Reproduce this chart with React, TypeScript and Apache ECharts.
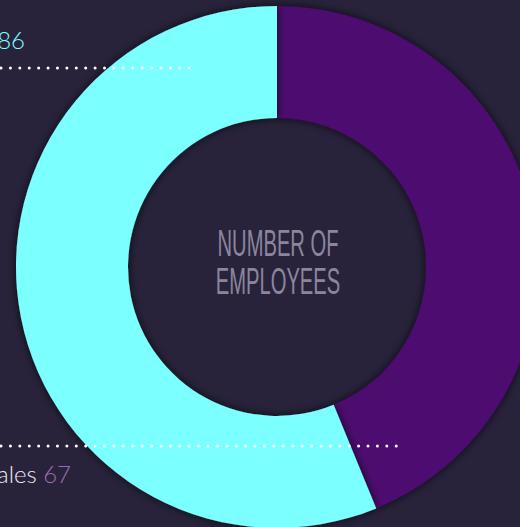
import React, { useEffect, useRef } from "react";
import * as echarts from "echarts";

const categories = ["Females", "Males"];
const values = [67, 86];
const colors = ["#4e0870", "#7cffff"];
const centerLines = ["NUMBER OF", "EMPLOYEES"];

export default function App() {
  const ref = useRef<HTMLDivElement>(null);
  useEffect(() => {
    const chart = echarts.init(ref.current!, null, { renderer: "svg" });
    const bg = "#28233b";
    chart.setOption({
      animation: false,
      backgroundColor: bg,
      series: [
        {
          type: "pie",
          center: [277, 267],
          radius: [149, 261],
          startAngle: 90,
          clockwise: true,
          silent: true,
          label: { show: false },
          labelLine: { show: false },
          itemStyle: {
            shadowBlur: 10,
            shadowColor: "rgba(0,0,0,0.75)",
          },
          data: categories.map((c, i) => ({
            name: c,
            value: values[i],
            itemStyle: { color: colors[i] },
          })),
        },
      ],
      graphic: [
        {
          type: "line",
          shape: { x1: 1, y1: 68, x2: 191, y2: 68 },
          style: { stroke: "#ffffff", lineWidth: 3, lineDash: [0.01, 9.4], lineCap: "round" },
          z: 100,
        },
        {
          type: "line",
          shape: { x1: 1, y1: 446, x2: 397, y2: 446 },
          style: { stroke: "#ffffff", lineWidth: 3, lineDash: [0.01, 9.4], lineCap: "round" },
          z: 100,
        },
        {
          type: "text",
          x: 25,
          y: 51,
          style: {
            text: categories[1] + " {v|" + values[1] + "}",
            textAlign: "right",
            textVerticalAlign: "bottom",
            fill: "#ece9f3",
            font: "300 24px Lato",
            rich: { v: { fill: "#7cffff", font: "300 24px Lato" } },
          },
          z: 100,
        },
        {
          type: "text",
          x: 71,
          y: 485,
          style: {
            text: categories[0] + " {v|" + values[0] + "}",
            textAlign: "right",
            textVerticalAlign: "bottom",
            fill: "#ece9f3",
            font: "300 24px Lato",
            rich: { v: { fill: "#9b6cb4", font: "300 24px Lato" } },
          },
          z: 100,
        },
        {
          type: "group",
          x: 278,
          y: 263,
          scaleX: 0.56,
          children: [
            {
              type: "text",
              x: 0,
              y: -19,
              style: {
                text: centerLines[0],
                textAlign: "center",
                textVerticalAlign: "middle",
                fill: "#8b869d",
                font: "36px 'Liberation Sans'",
              },
            },
            {
              type: "text",
              x: 0,
              y: 19,
              style: {
                text: centerLines[1],
                textAlign: "center",
                textVerticalAlign: "middle",
                fill: "#8b869d",
                font: "36px 'Liberation Sans'",
              },
            },
          ],
          z: 100,
        },
      ],
    });
    return () => chart.dispose();
  }, []);
  return <div ref={ref} style={{ width: 520, height: 527, position: "fixed", left: 0, top: 0 }} />;
}
